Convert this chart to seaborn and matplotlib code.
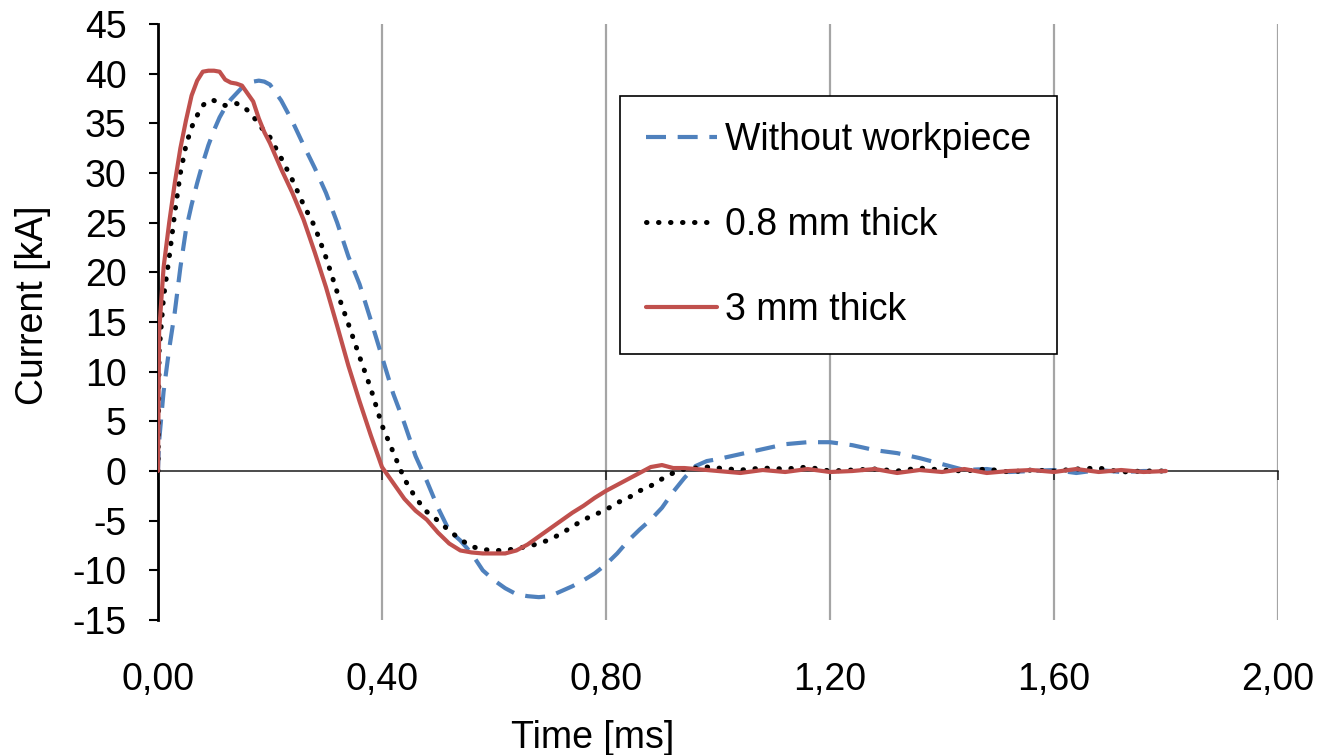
import matplotlib
matplotlib.use("Agg")
import pandas as pd
import matplotlib.pyplot as plt
import seaborn as sns

# general look
sns.set_theme(style="white")
plt.rcParams['font.family'] = ['Liberation Sans', 'DejaVu Sans']
plt.rcParams['axes.unicode_minus'] = False
plt.rcParams['text.color'] = 'black'
plt.rcParams['axes.labelcolor'] = 'black'
plt.rcParams['xtick.color'] = 'black'
plt.rcParams['ytick.color'] = 'black'

# ==========================================
# data
# ==========================================
TIME_MS = [
    0.0, 0.002, 0.01, 0.02, 0.03, 0.04, 0.05, 0.06, 0.07, 0.08, 0.09,
    0.10, 0.11, 0.12, 0.13, 0.14, 0.15, 0.16, 0.17, 0.18, 0.19,
    0.20, 0.22, 0.24, 0.26, 0.28, 0.30, 0.32, 0.34, 0.36, 0.38,
    0.40, 0.42, 0.44, 0.46, 0.48, 0.50, 0.52, 0.54, 0.56, 0.58,
    0.60, 0.62, 0.64, 0.66, 0.68, 0.70, 0.72, 0.74, 0.76, 0.78,
    0.80, 0.82, 0.84, 0.86, 0.88, 0.90, 0.92, 0.94, 0.96, 0.98, 1.00,
    1.04, 1.08, 1.12, 1.16, 1.20, 1.24, 1.28, 1.32, 1.36, 1.40,
    1.44, 1.48, 1.52, 1.56, 1.60, 1.64, 1.68, 1.72, 1.76, 1.80,
]

NO_WORKPIECE = [
    0.0, 3.0, 8.0, 12.3, 16.0, 20.5, 24.3, 26.8, 29.0, 31.0, 32.8,
    34.3, 35.6, 36.6, 37.4, 38.0, 38.6, 39.0, 39.2, 39.3, 39.2,
    38.9, 37.3, 35.2, 32.8, 30.5, 28.0, 25.0, 21.6, 18.8, 15.2,
    11.5, 7.8, 4.8, 1.5, -1.0, -3.7, -6.0, -7.0, -8.3, -10.0,
    -11.0, -11.8, -12.4, -12.6, -12.7, -12.6, -12.1, -11.6, -11.0, -10.3,
    -9.4, -8.3, -7.0, -5.9, -4.9, -3.7, -2.1, -0.7, 0.5, 1.0, 1.2,
    1.7, 2.2, 2.7, 2.9, 2.9, 2.6, 2.1, 1.8, 1.3, 0.7,
    0.1, 0.2, -0.1, 0.0, 0.1, -0.2, 0.1, -0.1, 0.0, 0.0,
]

THICK_08MM = [
    0.0, 12.0, 17.5, 21.5, 26.0, 30.0, 32.8, 34.6, 35.8, 36.8, 37.3,
    37.3, 37.0, 36.8, 36.9, 37.0, 36.8, 36.3, 35.7, 34.9, 34.2,
    33.6, 31.5, 29.3, 26.8, 24.6, 21.5, 18.0, 14.8, 11.5, 8.3,
    4.6, 1.9, -0.8, -2.7, -4.1, -5.0, -6.0, -6.9, -7.6, -7.9,
    -8.0, -8.0, -7.8, -7.6, -7.3, -6.9, -6.3, -5.6, -4.9, -4.4,
    -3.9, -3.2, -2.7, -2.0, -1.5, -0.8, -0.2, 0.2, 0.3, 0.4, 0.3,
    0.1, 0.3, 0.2, 0.4, 0.0, 0.1, 0.2, 0.0, 0.3, 0.1,
    0.0, 0.2, -0.1, 0.1, 0.0, 0.2, 0.3, -0.1, 0.0, 0.0,
]

THICK_3MM = [
    0.0, 14.0, 20.5, 25.0, 29.0, 32.5, 35.3, 37.8, 39.3, 40.2, 40.3,
    40.3, 40.2, 39.4, 39.1, 39.0, 38.8, 38.0, 37.2, 35.5, 34.1,
    33.0, 30.4, 28.0, 25.3, 22.0, 18.5, 14.6, 10.6, 7.0, 3.6,
    0.4, -1.2, -2.8, -4.0, -4.9, -6.2, -7.3, -8.0, -8.2, -8.3,
    -8.3, -8.3, -8.0, -7.4, -6.6, -5.8, -5.0, -4.2, -3.5, -2.7,
    -2.0, -1.4, -0.8, -0.2, 0.4, 0.6, 0.3, 0.3, 0.2, 0.1, 0.0,
    -0.2, 0.1, -0.1, 0.2, -0.1, 0.0, 0.2, -0.2, 0.1, -0.1,
    0.2, -0.2, 0.0, 0.1, -0.1, 0.2, -0.1, 0.1, -0.1, 0.0,
]

SERIES_NAMES = ["Without workpiece", "0.8 mm thick", "3 mm thick"]
X_TICKS = [0.0, 0.4, 0.8, 1.2, 1.6, 2.0]
X_TICK_LABELS = ["0,00", "0,40", "0,80", "1,20", "1,60", "2,00"]
Y_TICKS = [-15, -10, -5, 0, 5, 10, 15, 20, 25, 30, 35, 40, 45]

df = pd.DataFrame({
    "Time": TIME_MS,
    SERIES_NAMES[0]: NO_WORKPIECE,
    SERIES_NAMES[1]: THICK_08MM,
    SERIES_NAMES[2]: THICK_3MM,
})

FS = 27

fig = plt.figure(figsize=(13.21, 7.55), dpi=100)
ax = fig.add_axes([0.1196, 0.1788, 0.8478, 0.7894])

# vertical grid only, behind the curves
ax.set_axisbelow(True)
ax.grid(axis='x', color='#A5A5A5', linewidth=1.6)
ax.grid(axis='y', visible=False)

sns.lineplot(data=df, x="Time", y=SERIES_NAMES[0], ax=ax, color='#4F81BD',
             linewidth=3.0, linestyle=(0, (4.8, 2.8)), label=SERIES_NAMES[0],
             errorbar=None, zorder=3)
sns.lineplot(data=df, x="Time", y=SERIES_NAMES[1], ax=ax, color='black',
             linewidth=3.6, linestyle=(0, (0.1, 2.3)), dash_capstyle='round',
             label=SERIES_NAMES[1], errorbar=None, zorder=4)
sns.lineplot(data=df, x="Time", y=SERIES_NAMES[2], ax=ax, color='#C0504D',
             linewidth=3.0, label=SERIES_NAMES[2], errorbar=None, zorder=5)

ax.set_xlim(0, 2.0)
ax.set_ylim(-15, 45)
ax.set_xticks(X_TICKS)
ax.set_xticklabels(X_TICK_LABELS)
ax.set_yticks(Y_TICKS)
ax.set_yticklabels([str(v) for v in Y_TICKS])

# axes: left spine, horizontal axis crossing at zero, labels at the bottom
for side in ['top', 'right']:
    ax.spines[side].set_visible(False)
ax.spines['left'].set_color('black')
ax.spines['left'].set_linewidth(2.0)
ax.spines['bottom'].set_position(('data', 0))
ax.spines['bottom'].set_color('#1A1A1A')
ax.spines['bottom'].set_linewidth(1.1)
ax.spines['bottom'].set_zorder(2)

ax.tick_params(axis='y', direction='out', length=6.5, width=1.5, color='black',
               labelsize=FS, labelcolor='black', pad=16, left=True)
ax.tick_params(axis='x', direction='out', length=6.5, width=1.1, color='#1A1A1A',
               labelsize=FS, labelcolor='black', pad=131, bottom=True)

ax.set_xlabel('Time [ms]', fontsize=FS, color='black')
ax.set_ylabel('Current [kA]', fontsize=FS, color='black')
ax.xaxis.set_label_coords(0.388, -0.168)
ax.yaxis.set_label_coords(-0.112, 0.528)
ax.yaxis.label.set_verticalalignment('center')

leg = ax.legend(loc='upper left', bbox_to_anchor=(0.4125, 0.879), borderaxespad=0,
                fontsize=FS, frameon=True, fancybox=False, framealpha=1,
                edgecolor='black', borderpad=0.7, labelspacing=1.3,
                handlelength=1.9, handletextpad=0.2)
leg.get_frame().set_linewidth(1.2)
leg.set_zorder(10)
for txt in leg.get_texts():
    txt.set_color('black')

fig.savefig('out.png', dpi=100)
plt.close(fig)
